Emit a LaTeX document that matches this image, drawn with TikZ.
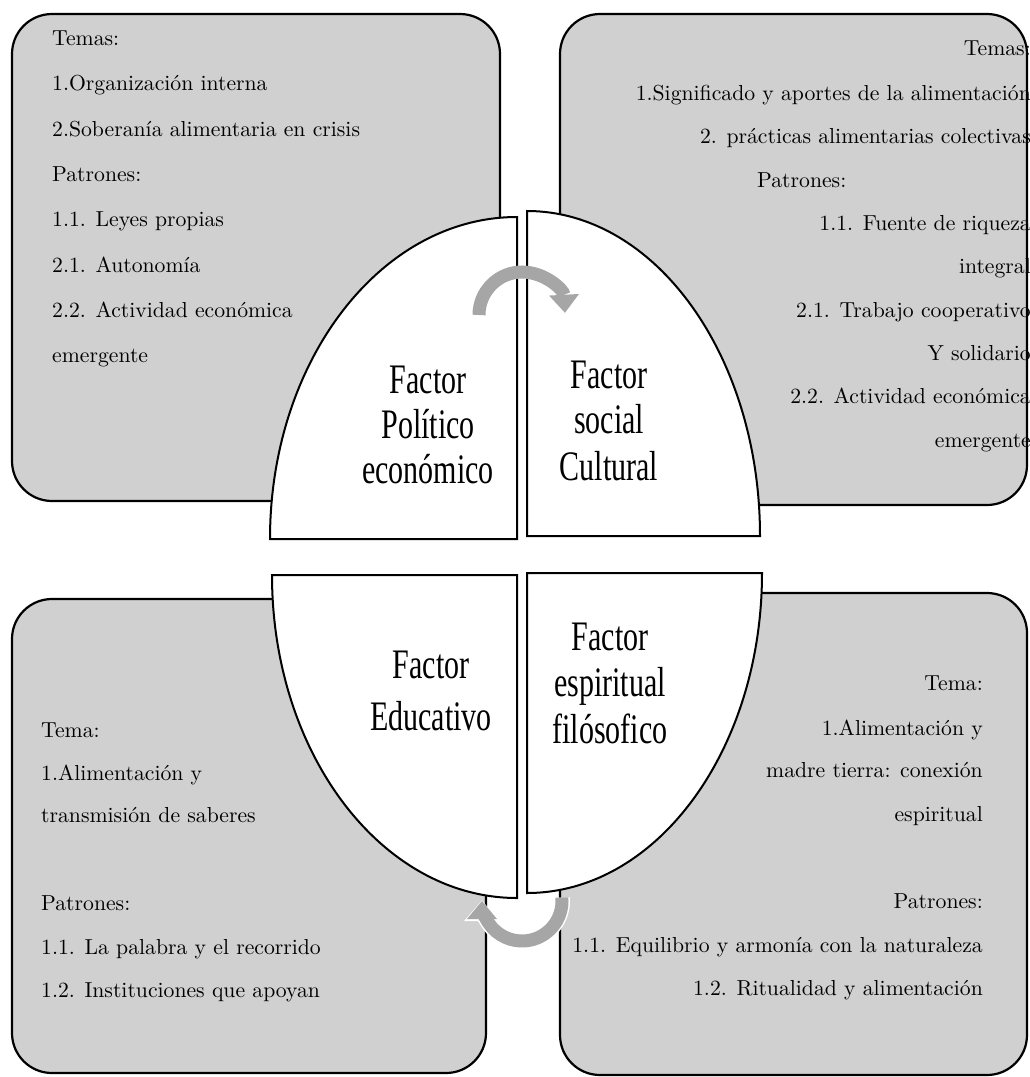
\documentclass[tikz,border=0pt]{standalone}
\usepackage{fontspec}
\usetikzlibrary{arrows.meta}
\newfontfamily\factorfont{Liberation Serif}
\definecolor{boxgray}{RGB}{208,208,208}
\definecolor{arrowgray}{RGB}{166,166,166}
\tikzset{
  infobox/.style={draw=black, line width=2.2pt, fill=boxgray, rounded corners=40pt},
  quarter/.style={draw=black, line width=2pt, fill=white},
  cyc/.style={draw=arrowgray, line width=13pt, -{Triangle[width=30pt,length=18pt,line width=0pt]}},
  cycw/.style={draw=white, line width=16pt, -{Triangle[width=35pt,length=21pt,line width=0pt]}},
  bodyL/.style={anchor=base west, inner sep=0pt, font=\fontsize{10}{12}\selectfont},
  bodyR/.style={anchor=base east, inner sep=0pt, font=\fontsize{10}{12}\selectfont},
  factor/.style={anchor=base, inner sep=0pt, font=\factorfont\fontsize{30}{36}\selectfont},
}
\newcommand{\tallfac}[1]{\scalebox{1}[1.4]{#1}}
\newcommand{\bt}[1]{\scalebox{2.17}{#1}}
\begin{document}
\begin{tikzpicture}[x=1pt,y=-1pt]
\useasboundingbox (0,0) rectangle (1029,1077);
\fill[white] (0,0) rectangle (1029,1077);

% information boxes
\path[infobox] (12,14) rectangle (500,501);
\path[infobox] (560,14) rectangle (1027,505);
\path[infobox] (12,599) rectangle (486,1073);
\path[infobox] (560,593) rectangle (1027,1075);

% quarter shapes
\path[quarter] (517,539) -- (270,539) arc[start angle=180, end angle=90, x radius=247pt, y radius=322pt] -- cycle;
\path[quarter] (527,536) -- (527,211) arc[start angle=90, end angle=0, x radius=233pt, y radius=325pt] -- cycle;
\path[quarter] (517,575) -- (272,575) arc[start angle=180, end angle=270, x radius=245pt, y radius=323pt] -- cycle;
\path[quarter] (527,573) -- (762,573) arc[start angle=0, end angle=-90, x radius=235pt, y radius=320pt] -- cycle;

% cycle arrows
\coordinate (tc) at (522,315);
\draw[cyc] (tc) ++(180:43pt) arc[start angle=180, end angle=3, radius=43pt];
\coordinate (bc) at (522,901);
\draw[cycw] (bc) ++(5:40pt) arc[start angle=5, end angle=-181, radius=40pt];
\draw[cyc] (bc) ++(5:40pt) arc[start angle=5, end angle=-180, radius=40pt];

% factor labels
\node[factor] (f1a) at (428,393) {\tallfac{Factor}};
\node[factor] (f1b) at (428,438) {\tallfac{Político}};
\node[factor] (f1c) at (428,483) {\tallfac{económico}};
\node[factor] (f2a) at (609,388) {\tallfac{Factor}};
\node[factor] (f2b) at (609,433) {\tallfac{social}};
\node[factor] (f2c) at (609,480) {\tallfac{Cultural}};
\node[factor] (f3a) at (431,678) {\tallfac{Factor}};
\node[factor] (f3b) at (431,730) {\tallfac{Educativo}};
\node[factor] (f4a) at (610,650) {\tallfac{Factor}};
\node[factor] (f4b) at (610,696) {\tallfac{espiritual}};
\node[factor] (f4c) at (610,743) {\tallfac{filósofico}};

% top-left text
\foreach \y/\t [count=\i] in {45/Temas:, 90/1.Organización interna, 136/2.Soberanía alimentaria en crisis, 181/Patrones:, 226/1.1. Leyes propias, 272/2.1. Autonomía, 317/2.2. Actividad económica, 362/emergente}
  \node[bodyL] (tl\i) at (52,\y) {\bt{\t}};

% top-right text
\foreach \y/\t [count=\i] in {55/Temas:, 100/1.Significado y aportes de la alimentación, 143/2. prácticas alimentarias colectivas, 230/1.1. Fuente de riqueza, 273/integral, 317/2.1. Trabajo cooperativo, 360/Y solidario, 403/2.2. Actividad económica, 447/emergente}
  \node[bodyR] (tr\i) at (1031,\y) {\bt{\t}};
\node[bodyL] (trp) at (757,187) {\bt{Patrones:}};

% bottom-left text
\foreach \y/\t [count=\i] in {737/Tema:, 780/1.Alimentación y, 822/transmisión de saberes, 910/Patrones:, 954/1.1. La palabra y el recorrido, 997/1.2. Instituciones que apoyan}
  \node[bodyL] (bl\i) at (41,\y) {\bt{\t}};

% bottom-right text
\foreach \y/\t [count=\i] in {690/Tema:, 735/1.Alimentación y, 777/madre tierra: conexión, 821/espiritual, 908/Patrones:, 952/1.1. Equilibrio y armonía con la naturaleza, 995/1.2. Ritualidad y alimentación}
  \node[bodyR] (br\i) at (983,\y) {\bt{\t}};
\end{tikzpicture}
\end{document}
